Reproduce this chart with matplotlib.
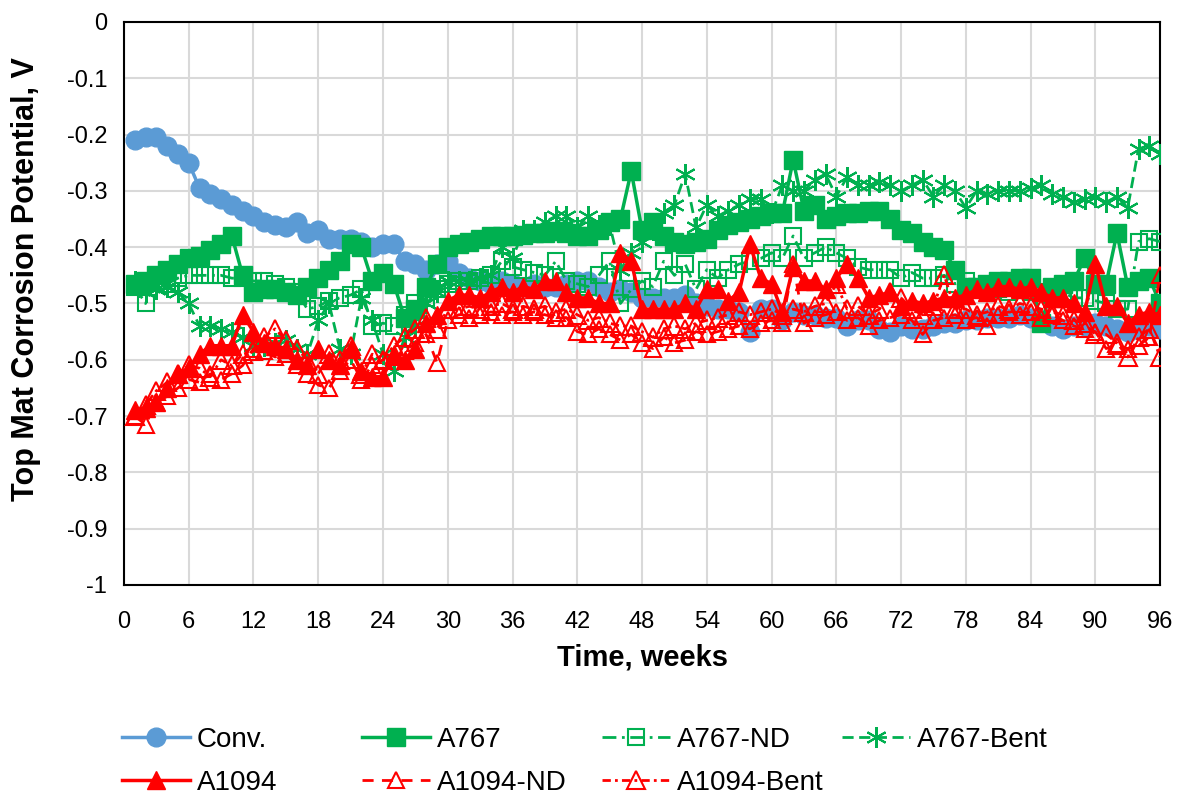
import matplotlib
matplotlib.use("Agg")
import matplotlib.pyplot as plt
import numpy as np

plt.rcParams['font.family'] = ['Liberation Sans', 'DejaVu Sans']

weeks = np.arange(1, 97)

conv = [-0.21, -0.205, -0.205, -0.22, -0.235, -0.25, -0.295, -0.305, -0.315, -0.325,
        -0.335, -0.345, -0.355, -0.36, -0.365, -0.355, -0.375, -0.37, -0.385, -0.385,
        -0.385, -0.39, -0.40, -0.395, -0.395, -0.425, -0.43, -0.44, -0.43, -0.425,
        -0.445, -0.455, -0.46, -0.465, -0.46, -0.465, -0.47, -0.465, -0.47, -0.47,
        -0.465, -0.46, -0.46, -0.47, -0.48, -0.475, -0.48, -0.49, -0.49, -0.49,
        -0.49, -0.485, -0.50, -0.505, -0.51, -0.51, -0.515, -0.55, -0.51, -0.51,
        -0.53, -0.515, -0.52, -0.52, -0.525, -0.525, -0.54, -0.53, -0.53, -0.545,
        -0.55, -0.54, -0.545, -0.545, -0.54, -0.535, -0.535, -0.53, -0.53, -0.525,
        -0.525, -0.525, -0.52, -0.525, -0.53, -0.54, -0.545, -0.54, -0.54, -0.535,
        -0.54, -0.545, -0.55, -0.545, -0.54, -0.545]

a767 = [-0.465, -0.46, -0.45, -0.44, -0.43, -0.42, -0.415, -0.405, -0.395, -0.38,
        -0.45, -0.48, -0.475, -0.475, -0.48, -0.485, -0.47, -0.455, -0.44, -0.425,
        -0.395, -0.40, -0.46, -0.445, -0.465, -0.525, -0.51, -0.47, -0.43, -0.40,
        -0.395, -0.39, -0.385, -0.38, -0.38, -0.38, -0.378, -0.375, -0.375, -0.372,
        -0.375, -0.38, -0.38, -0.37, -0.355, -0.35, -0.265, -0.37, -0.355, -0.38,
        -0.39, -0.395, -0.39, -0.385, -0.37, -0.36, -0.355, -0.35, -0.345, -0.34,
        -0.34, -0.245, -0.335, -0.325, -0.35, -0.345, -0.34, -0.34, -0.335, -0.335,
        -0.35, -0.37, -0.375, -0.39, -0.40, -0.405, -0.44, -0.47, -0.47, -0.465,
        -0.46, -0.46, -0.455, -0.455, -0.535, -0.47, -0.465, -0.46, -0.42, -0.465,
        -0.465, -0.375, -0.47, -0.46, -0.455, -0.50]

a767_nd = [-0.47, -0.50, -0.46, -0.465, -0.455, -0.45, -0.45, -0.45, -0.45, -0.455,
           -0.455, -0.46, -0.46, -0.465, -0.47, -0.48, -0.51, -0.505, -0.495, -0.49,
           -0.485, -0.475, -0.54, -0.535, -0.54, -0.52, -0.50, -0.49, -0.475, -0.465,
           -0.46, -0.46, -0.455, -0.45, -0.425, -0.435, -0.44, -0.445, -0.45, -0.425,
           -0.46, -0.465, -0.47, -0.45, -0.425, -0.50, -0.475, -0.46, -0.47, -0.425,
           -0.45, -0.43, -0.475, -0.44, -0.455, -0.44, -0.43, -0.425, -0.42, -0.41,
           -0.42, -0.38, -0.42, -0.41, -0.40, -0.41, -0.42, -0.435, -0.44, -0.44,
           -0.44, -0.455, -0.445, -0.455, -0.455, -0.45, -0.465, -0.46, -0.47, -0.475,
           -0.475, -0.48, -0.475, -0.48, -0.48, -0.485, -0.48, -0.49, -0.49, -0.495,
           -0.50, -0.51, -0.51, -0.39, -0.385, -0.39]

a767_bent = [-0.46, -0.48, -0.475, -0.47, -0.48, -0.50, -0.54, -0.54, -0.545, -0.55,
             -0.56, -0.575, -0.575, -0.57, -0.565, -0.58, -0.59, -0.53, -0.50, -0.58,
             -0.59, -0.49, -0.53, -0.59, -0.62, -0.56, -0.54, -0.50, -0.48, -0.46,
             -0.46, -0.46, -0.455, -0.45, -0.40, -0.42, -0.37, -0.37, -0.355, -0.345,
             -0.345, -0.365, -0.345, -0.36, -0.36, -0.44, -0.41, -0.39, -0.37, -0.34,
             -0.325, -0.27, -0.365, -0.325, -0.345, -0.335, -0.325, -0.315, -0.315, -0.34,
             -0.29, -0.30, -0.30, -0.28, -0.27, -0.31, -0.275, -0.29, -0.29, -0.285,
             -0.29, -0.30, -0.29, -0.28, -0.31, -0.29, -0.30, -0.33, -0.30, -0.305,
             -0.30, -0.30, -0.30, -0.295, -0.29, -0.305, -0.31, -0.32, -0.315, -0.31,
             -0.32, -0.31, -0.33, -0.225, -0.22, -0.235]

a1094 = [-0.69, -0.685, -0.675, -0.65, -0.625, -0.615, -0.59, -0.575, -0.575, -0.575,
         -0.52, -0.55, -0.57, -0.575, -0.58, -0.60, -0.61, -0.58, -0.60, -0.61,
         -0.58, -0.62, -0.63, -0.63, -0.59, -0.60, -0.58, -0.535, -0.52, -0.495,
         -0.485, -0.485, -0.49, -0.48, -0.47, -0.48, -0.47, -0.475, -0.46, -0.46,
         -0.48, -0.49, -0.49, -0.50, -0.50, -0.41, -0.425, -0.51, -0.51, -0.51,
         -0.51, -0.50, -0.51, -0.475, -0.475, -0.495, -0.48, -0.395, -0.455, -0.465,
         -0.515, -0.435, -0.46, -0.46, -0.475, -0.455, -0.43, -0.455, -0.49, -0.485,
         -0.48, -0.505, -0.495, -0.50, -0.495, -0.49, -0.49, -0.485, -0.475, -0.48,
         -0.47, -0.47, -0.475, -0.47, -0.48, -0.49, -0.49, -0.50, -0.515, -0.43,
         -0.505, -0.505, -0.535, -0.52, -0.515, -0.52]

a1094_nd = [-0.70, -0.715, -0.675, -0.665, -0.65, -0.635, -0.64, -0.625, -0.635, -0.625,
            -0.61, -0.58, -0.585, -0.595, -0.59, -0.61, -0.625, -0.645, -0.65, -0.62,
            -0.60, -0.635, -0.61, -0.60, -0.595, -0.585, -0.57, -0.555, -0.605, -0.53,
            -0.52, -0.525, -0.52, -0.515, -0.52, -0.515, -0.52, -0.515, -0.52, -0.525,
            -0.525, -0.55, -0.555, -0.545, -0.555, -0.565, -0.555, -0.57, -0.58, -0.56,
            -0.57, -0.565, -0.55, -0.555, -0.55, -0.545, -0.54, -0.545, -0.535, -0.53,
            -0.535, -0.43, -0.535, -0.525, -0.52, -0.515, -0.53, -0.525, -0.54, -0.53,
            -0.525, -0.52, -0.53, -0.555, -0.53, -0.525, -0.52, -0.53, -0.525, -0.54,
            -0.52, -0.515, -0.52, -0.515, -0.525, -0.52, -0.53, -0.54, -0.545, -0.55,
            -0.58, -0.575, -0.58, -0.575, -0.56, -0.45]

a1094_bent = [-0.70, -0.68, -0.655, -0.64, -0.625, -0.61, -0.615, -0.63, -0.60, -0.61,
              -0.59, -0.585, -0.56, -0.545, -0.565, -0.58, -0.60, -0.625, -0.59, -0.60,
              -0.575, -0.625, -0.59, -0.60, -0.575, -0.56, -0.545, -0.525, -0.545, -0.51,
              -0.51, -0.505, -0.51, -0.505, -0.50, -0.51, -0.505, -0.51, -0.505, -0.515,
              -0.51, -0.52, -0.53, -0.525, -0.535, -0.54, -0.54, -0.55, -0.56, -0.545,
              -0.54, -0.545, -0.535, -0.53, -0.525, -0.52, -0.515, -0.52, -0.515, -0.51,
              -0.52, -0.51, -0.515, -0.505, -0.50, -0.465, -0.51, -0.505, -0.52, -0.51,
              -0.48, -0.49, -0.51, -0.52, -0.505, -0.45, -0.51, -0.51, -0.52, -0.515,
              -0.505, -0.51, -0.50, -0.505, -0.51, -0.515, -0.52, -0.53, -0.535, -0.555,
              -0.555, -0.57, -0.595, -0.56, -0.545, -0.595]

blue = '#5B9BD5'
green = '#00B050'
red = '#FF0000'

fig = plt.figure(figsize=(11.85, 7.97), dpi=100)
ax = fig.add_axes([0.1046, 0.266, 0.8744, 0.7064])

l_conv, = ax.plot(weeks, conv, color=blue, lw=2.5, marker='o', ms=13.5, mfc=blue, mec=blue,
                  label='Conv.', zorder=3)
l_a767, = ax.plot(weeks, a767, color=green, lw=2.5, marker='s', ms=12.5, mfc=green, mec=green,
                  label='A767', zorder=4)
l_a767nd, = ax.plot(weeks, a767_nd, color=green, lw=2, ls=(0, (5, 2, 1, 2)), marker='s', ms=11,
                    mfc='none', mec=green, mew=1.5, label='A767-ND', zorder=4)
l_a767b, = ax.plot(weeks, a767_bent, color=green, lw=2, ls=(0, (4, 2)), marker=(6, 2, 0), ms=15,
                   mec=green, mew=1.5, label='A767-Bent', zorder=4)
l_a1094, = ax.plot(weeks, a1094, color=red, lw=2.5, marker='^', ms=13, mfc=red, mec=red,
                   label='A1094', zorder=5)
l_a1094nd, = ax.plot(weeks, a1094_nd, color=red, lw=2, ls=(0, (4, 3)), marker='^', ms=11,
                     mfc='none', mec=red, mew=1.5, label='A1094-ND', zorder=5)
l_a1094b, = ax.plot(weeks, a1094_bent, color=red, lw=2, ls=(0, (3, 1.5, 1, 1.5)), marker='^', ms=12.5,
                    mfc='none', mec=red, mew=1.5, label='A1094-Bent', zorder=5)

ax.set_xlim(0, 96)
ax.set_ylim(-1, 0)
ax.set_xticks(np.arange(0, 97, 6))
ax.set_yticks(np.round(np.arange(-1, 0.01, 0.1), 1))
ax.set_yticklabels(['-1', '-0.9', '-0.8', '-0.7', '-0.6', '-0.5', '-0.4', '-0.3', '-0.2', '-0.1', '0'])
ax.grid(True, color='#D9D9D9', lw=1.5)
ax.set_axisbelow(True)
ax.tick_params(length=0, labelsize=17)
ax.tick_params(axis='x', pad=19)
ax.tick_params(axis='y', pad=12)
for s in ax.spines.values():
    s.set_color('black')
    s.set_linewidth(1.5)

ax.set_xlabel('Time, weeks', fontsize=21, fontweight='bold', labelpad=7)
ax.set_ylabel('Top Mat Corrosion Potential, V', fontsize=22, fontweight='bold')
ax.yaxis.set_label_coords(-0.08, 0.543)

# legend laid out in fixed-width columns, two rows
columns = [[l_conv, l_a1094], [l_a767, l_a1094nd], [l_a767nd, l_a1094b], [l_a767b]]
col_x = [0.103, 0.3055, 0.508, 0.7105]
for handles, x in zip(columns, col_x):
    fig.legend(handles=handles, loc='upper left', bbox_to_anchor=(x, 0.0879), frameon=False,
               fontsize=20, handlelength=2.45, handletextpad=0.25, labelspacing=0.6,
               borderpad=0, borderaxespad=0)

fig.savefig('out.png', dpi=100)
